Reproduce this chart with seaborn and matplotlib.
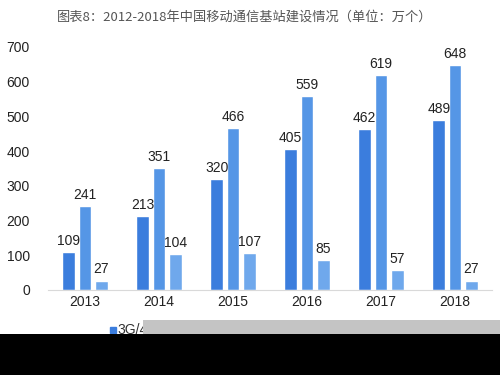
import pandas as pd
import numpy as np
import matplotlib.pyplot as plt
import matplotlib.patches as mpatches
import seaborn as sns

sns.set_style("white")
plt.rcParams['font.family'] = ['Liberation Sans', 'Noto Sans CJK SC', 'DejaVu Sans']
plt.rcParams['hatch.color'] = '#e6e6e6'

# --------------------------- data ---------------------------
years = ["2013", "2014", "2015", "2016", "2017", "2018"]
series_names = ["3G/4G基站", "移动电话基站", "新增基站"]
base_3g4g = [109, 213, 320, 405, 462, 489]
base_total = [241, 351, 466, 559, 619, 648]
base_new = [27, 104, 107, 85, 57, 27]
colors = ["#3b7ddd", "#5596e6", "#6fa8ec"]

df = pd.DataFrame({
    "year": years * 3,
    "series": np.repeat(series_names, len(years)),
    "value": base_3g4g + base_total + base_new,
})

# --------------------------- figure ---------------------------
fig = plt.figure(figsize=(5, 3.75), dpi=100)
ax = fig.add_axes([0.096, 0.227, 0.888, 0.648])

sns.barplot(data=df, x="year", y="value", hue="series", palette=colors,
            width=0.66, gap=0.23, saturation=1, legend=False, ax=ax)

for cont in ax.containers:
    ax.bar_label(cont, padding=3, fontsize=10, color="#222222")

ax.set_xlim(-0.5, 5.5)
ax.set_ylim(0, 700)
ax.set_yticks(range(0, 701, 100))
ax.set_xlabel("")
ax.set_ylabel("")
ax.tick_params(axis="both", labelsize=10, colors="#222222", length=0)
ax.tick_params(axis="y", pad=13)
ax.tick_params(axis="x", pad=4)
sns.despine(ax=ax, left=True)
ax.spines["bottom"].set_color("#d9d9d9")

fig.text(0.49, 0.955, "图表8：2012-2018年中国移动通信基站建设情况（单位：万个）",
         ha="center", va="center", fontsize=9.5, color="#555555",
         family=["Noto Sans CJK SC", "DejaVu Sans"])

# partially hidden legend at the bottom
fig.patches.append(mpatches.Rectangle((0.219, 0.112), 0.012, 0.016, transform=fig.transFigure,
                                      color=colors[0], figure=fig))
fig.text(0.234, 0.108, "3G/4", fontsize=10, color="#333333")
fig.patches.append(mpatches.Rectangle((0.286, 0.109), 0.714, 0.037, transform=fig.transFigure,
                                      facecolor="#c4c4c4", edgecolor="none", hatch="..", figure=fig,
                                      zorder=5))
fig.patches.append(mpatches.Rectangle((0, 0), 1, 0.109, transform=fig.transFigure,
                                      facecolor="black", edgecolor="none", figure=fig, zorder=6))

plt.savefig("out.png", dpi=100)
